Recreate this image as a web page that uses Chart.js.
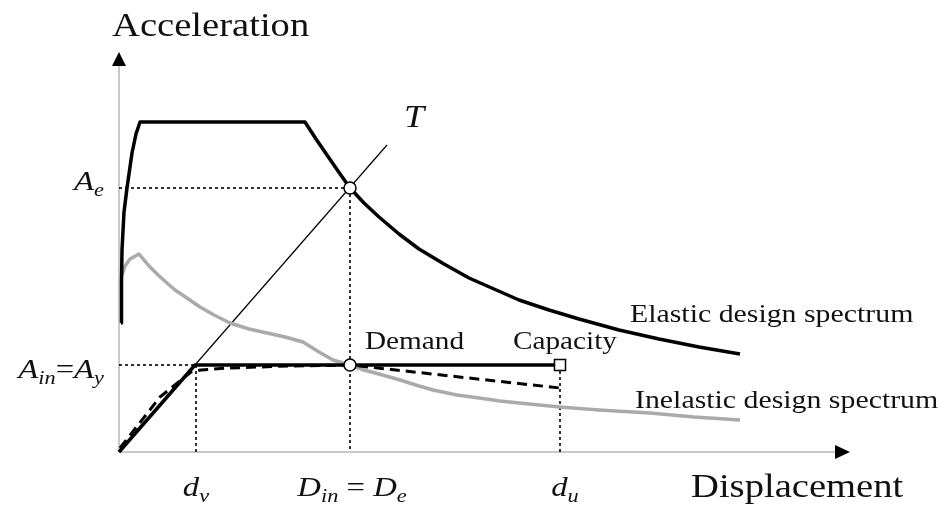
<!DOCTYPE html>
<html>
<head>
<meta charset="utf-8">
<script src="https://cdn.jsdelivr.net/npm/chart.js@4.4.1/dist/chart.umd.min.js"></script>
<style>
  html, body { margin: 0; padding: 0; background: #fff; }
  #wrap { width: 943px; height: 506px; }
</style>
</head>
<body>
<div id="wrap"><canvas id="chart" width="943" height="506"></canvas></div>
<script>
// key points of the diagram (displacement / acceleration, arbitrary units)
const dv = 77, dIn = 231, du = 441;
const Ae = 264, Ay = 87;

// elastic design spectrum
const dispElastic = [2, 2.5, 3, 5, 8, 13, 17, 21, 186, 197, 208, 219, 231, 245, 260, 280, 300, 325, 350, 375, 400, 430, 460, 500, 540, 580, 621];
const accElastic = [129, 170, 202, 240, 264, 299, 318, 330, 330, 313, 297, 281, 264, 249, 235, 218, 203, 188, 174, 163, 152, 142, 133, 122, 113, 105, 98];

// inelastic design spectrum
const dispInelastic = [3, 6, 11, 20, 25, 30, 38, 48, 56, 65, 81, 95, 111, 130, 148, 166, 184, 200, 214, 231, 245, 260, 281, 300, 314, 338, 360, 381, 410, 441, 480, 531, 575, 621];
const accInelastic = [177, 186, 193, 198, 192, 186, 178, 169, 162, 156, 145, 137, 129, 123, 119, 115, 110, 100, 92, 87, 82, 78, 72, 66, 62, 57, 54, 51, 48, 45, 42, 39, 35, 32];

// period line T
const dispT = [0, 268];
const accT = [0, 307];

// bilinear capacity curve
const dispCap = [0, 76, du];
const accCap = [0, Ay, Ay];

// dashed pushover curve
const dispPush = [1, 41, 72, 82, 110, 170, dIn, du];
const accPush = [4, 55, 80, 82, 84, 86, Ay, 64];

function pts(xs, ys) {
  return xs.map((x, i) => ({ x: x, y: ys[i] }));
}

const SX = 1.17; // text in the picture is a bit stretched
const SERIF = '"Liberation Serif", "Times New Roman", serif';

function drawText(ctx, s, x, y, size, italic) {
  ctx.save();
  ctx.font = (italic ? "italic " : "") + size + "px " + SERIF;
  ctx.translate(x, y);
  ctx.scale(SX, 1);
  ctx.fillText(s, 0, 0);
  ctx.restore();
}

function textWidth(ctx, s, size, italic) {
  ctx.save();
  ctx.font = (italic ? "italic " : "") + size + "px " + SERIF;
  const w = ctx.measureText(s).width * SX;
  ctx.restore();
  return w;
}

// parts: [text, kind] with kind i = italic, s = subscript, r = roman
function mathLabel(ctx, parts, x, y, align, size) {
  const sub = size * 0.68;
  const widths = parts.map(([t, k]) =>
    textWidth(ctx, t, k === "s" ? sub : size, k !== "r")
  );
  const total = widths.reduce((a, b) => a + b, 0);
  let cx = x;
  if (align === "center") cx = x - total / 2;
  if (align === "right") cx = x - total;
  parts.forEach(([t, k], i) => {
    if (k === "s") drawText(ctx, t, cx, y + size * 0.2, sub, true);
    else drawText(ctx, t, cx, y, size, k !== "r");
    cx += widths[i];
  });
}

const axesPlugin = {
  id: "axesArrows",
  beforeDatasetsDraw(chart) {
    const { ctx, chartArea: a } = chart;
    ctx.save();
    ctx.strokeStyle = "#c8c8c8";
    ctx.lineWidth = 2;
    ctx.beginPath();
    ctx.moveTo(a.left, a.bottom);
    ctx.lineTo(a.right - 12, a.bottom);
    ctx.moveTo(a.left, a.bottom);
    ctx.lineTo(a.left, a.top + 12);
    ctx.stroke();
    ctx.fillStyle = "#000";
    ctx.beginPath();
    ctx.moveTo(a.right, a.bottom);
    ctx.lineTo(a.right - 15, a.bottom - 7);
    ctx.lineTo(a.right - 15, a.bottom + 7);
    ctx.closePath();
    ctx.fill();
    ctx.beginPath();
    ctx.moveTo(a.left, a.top);
    ctx.lineTo(a.left - 7, a.top + 14);
    ctx.lineTo(a.left + 7, a.top + 14);
    ctx.closePath();
    ctx.fill();
    ctx.restore();
  },
};

const labelPlugin = {
  id: "labels",
  afterDatasetsDraw(chart) {
    const { ctx } = chart;
    const xs = chart.scales.x, ys = chart.scales.y;
    ctx.save();
    ctx.fillStyle = "#111";
    ctx.textBaseline = "alphabetic";

    drawText(ctx, "Acceleration", 112, 36, 33, false);
    drawText(ctx, "Displacement", 691, 497, 33, false);
    drawText(ctx, "Elastic design spectrum", 630, 322, 25.5, false);
    drawText(ctx, "Inelastic design spectrum", 635, 408, 25.5, false);
    drawText(ctx, "Demand", 365, 349, 25, false);
    drawText(ctx, "Capacity", 513, 349, 25, false);
    drawText(ctx, "T", 404, 127, 31, true);

    const left = xs.getPixelForValue(0);
    mathLabel(ctx, [["A", "i"], ["e", "s"]], left - 15, ys.getPixelForValue(Ae) + 2, "right", 28);
    mathLabel(ctx, [["A", "i"], ["in", "s"], ["=", "r"], ["A", "i"], ["y", "s"]],
      left - 15, ys.getPixelForValue(Ay) + 13, "right", 28);

    const base = 496;
    mathLabel(ctx, [["d", "i"], ["v", "s"]], xs.getPixelForValue(dv), base, "center", 28);
    mathLabel(ctx, [["D", "i"], ["in", "s"], [" = ", "r"], ["D", "i"], ["e", "s"]],
      xs.getPixelForValue(dIn) + 2, base, "center", 28);
    mathLabel(ctx, [["d", "i"], ["u", "s"]], xs.getPixelForValue(du) + 5, base, "center", 28);
    ctx.restore();
  },
};

const line = (data, color, width, dash) => ({
  data: data,
  showLine: true,
  borderColor: color,
  borderWidth: width,
  borderDash: dash || [],
  pointRadius: 0,
  tension: 0,
  fill: false,
  clip: false,
  borderJoinStyle: "round",
  borderCapStyle: "butt",
});

const dotted = [3, 3];

new Chart(document.getElementById("chart"), {
  type: "scatter",
  data: {
    datasets: [
      {
        data: [{ x: dIn, y: Ae }, { x: dIn, y: Ay }, { x: du, y: Ay }],
        pointStyle: ["circle", "circle", "rect"],
        pointRadius: [6, 6, 7.8],
        pointBackgroundColor: "#fff",
        pointBorderColor: "#000",
        pointBorderWidth: 1.5,
        showLine: false,
        clip: false,
      },
      line(pts(dispPush, accPush), "#000", 3, [10, 6]),
      line(pts(dispCap, accCap), "#000", 3.5),
      line(pts(dispElastic, accElastic), "#000", 3.5),
      line(pts(dispInelastic, accInelastic), "#aaaaaa", 3.5),
      line(pts(dispT, accT), "#000", 1.2),
      line([{ x: 0, y: Ae }, { x: dIn, y: Ae }], "#000", 1.6, dotted),
      line([{ x: dIn, y: Ae }, { x: dIn, y: 0 }], "#000", 1.6, dotted),
      line([{ x: 0, y: Ay }, { x: dv, y: Ay }], "#000", 1.6, dotted),
      line([{ x: dv, y: Ay }, { x: dv, y: 0 }], "#000", 1.6, dotted),
      line([{ x: du, y: Ay }, { x: du, y: 0 }], "#000", 1.6, dotted),
    ],
  },
  options: {
    responsive: false,
    animation: false,
    layout: {
      padding: { left: 119, right: 93, top: 52, bottom: 54 },
    },
    scales: {
      x: { type: "linear", min: 0, max: 731, display: false },
      y: { type: "linear", min: 0, max: 400, display: false },
    },
    plugins: {
      legend: { display: false },
      tooltip: { enabled: false },
    },
  },
  plugins: [axesPlugin, labelPlugin],
});
</script>
</body>
</html>
